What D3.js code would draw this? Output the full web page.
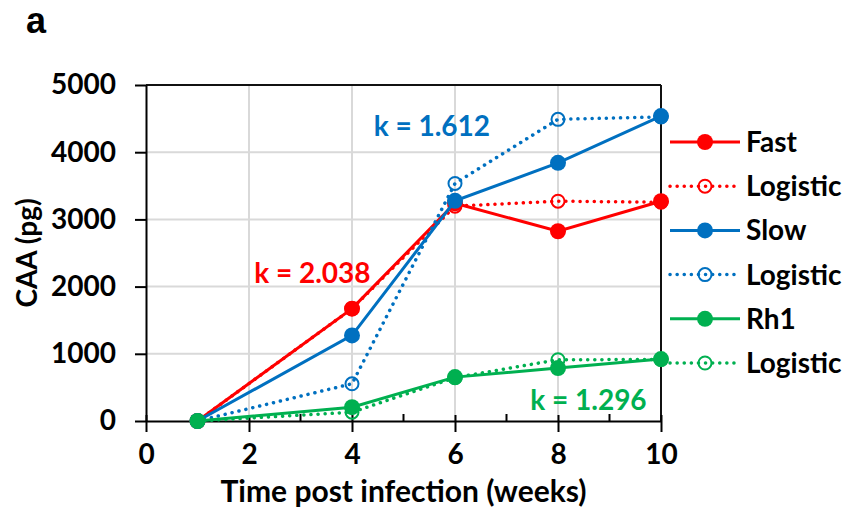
<!DOCTYPE html>
<html>
<head>
<meta charset="utf-8">
<script src="https://cdn.jsdelivr.net/npm/d3@7"></script>
<style>
  body { margin: 0; background: #fff; }
  svg { font-family: Lato, "Open Sans", sans-serif; font-weight: bold; }
</style>
</head>
<body>
<script>
// values
const weeks = [1, 4, 6, 8, 10];
const fast = [0, 1672, 3240, 2824, 3271];
const fastLogistic = [0, 1672, 3197, 3271, 3255];
const slow = [0, 1274, 3276, 3842, 4538];
const slowLogistic = [0, 554, 3535, 4489, 4525];
const rh1 = [0, 206, 653, 788, 921];
const rh1Logistic = [0, 131, 645, 912, 915];

const legendNames = ["Fast", "Logistic", "Slow", "Logistic", "Rh1", "Logistic"];
const kLabels = ["k = 2.038", "k = 1.612", "k = 1.296"];
const xTicks = [0, 2, 4, 6, 8, 10];
const xMinor = [1, 3, 5, 7, 9];
const yTicks = [0, 1000, 2000, 3000, 4000, 5000];

const red = "#ff0000", blue = "#0070c0", green = "#00b050";

const series = [
  { values: fast, color: red, dotted: false },
  { values: fastLogistic, color: red, dotted: true },
  { values: slow, color: blue, dotted: false },
  { values: slowLogistic, color: blue, dotted: true },
  { values: rh1, color: green, dotted: false },
  { values: rh1Logistic, color: green, dotted: true }
];

const width = 847;
const height = 510;
const plotLeft = 146, plotRight = 661, plotTop = 85, plotBottom = 421;
const fs = 28;

const svg = d3.select("body").append("svg").attr("width", width).attr("height", height);

const xScale = d3.scaleLinear().domain([0, 10]).range([plotLeft, plotRight]);
const yScale = d3.scaleLinear().domain([0, 5000]).range([plotBottom, plotTop]);

// grid
svg.selectAll("line.hgrid")
  .data(yTicks.slice(1, -1))
  .enter().append("line")
  .attr("x1", plotLeft).attr("x2", plotRight)
  .attr("y1", (d) => yScale(d)).attr("y2", (d) => yScale(d))
  .attr("stroke", "#d9d9d9").attr("stroke-width", 2);

svg.selectAll("line.vgrid")
  .data(xTicks.slice(1, -1))
  .enter().append("line")
  .attr("x1", (d) => xScale(d)).attr("x2", (d) => xScale(d))
  .attr("y1", plotTop).attr("y2", plotBottom)
  .attr("stroke", "#d9d9d9").attr("stroke-width", 2);

// box top / right
svg.append("line").attr("x1", plotLeft).attr("x2", plotRight).attr("y1", plotTop).attr("y2", plotTop)
  .attr("stroke", "#111").attr("stroke-width", 2);
svg.append("line").attr("x1", plotRight).attr("x2", plotRight).attr("y1", plotTop).attr("y2", plotBottom)
  .attr("stroke", "#111").attr("stroke-width", 2);

// x axis
const xAxis = svg.append("g")
  .attr("transform", "translate(0," + plotBottom + ")")
  .call(d3.axisBottom(xScale).tickValues(xTicks).tickFormat(d3.format("d"))
    .tickSize(11).tickSizeOuter(0).tickPadding(12));
xAxis.select(".domain").attr("stroke", "#000").attr("stroke-width", 2);
xAxis.selectAll(".tick line").attr("y1", -6).attr("stroke", "#000").attr("stroke-width", 2);
xAxis.selectAll(".tick text").attr("font-size", fs).attr("fill", "#000")
  .attr("font-family", "Lato").attr("font-weight", "bold");

svg.selectAll("line.minor")
  .data(xMinor)
  .enter().append("line")
  .attr("x1", (d) => xScale(d)).attr("x2", (d) => xScale(d))
  .attr("y1", plotBottom - 7).attr("y2", plotBottom)
  .attr("stroke", "#000").attr("stroke-width", 2);

// y axis
const yAxis = svg.append("g")
  .attr("transform", "translate(" + plotLeft + ",0)")
  .call(d3.axisLeft(yScale).tickValues(yTicks).tickFormat(d3.format("d"))
    .tickSize(11).tickSizeOuter(0).tickPadding(19));
yAxis.select(".domain").attr("stroke", "#000").attr("stroke-width", 2);
yAxis.selectAll(".tick line").attr("stroke", "#000").attr("stroke-width", 2);
yAxis.selectAll(".tick text").attr("font-size", fs).attr("fill", "#000")
  .attr("font-family", "Lato").attr("font-weight", "bold");

// lines
const line = d3.line().x((d, i) => xScale(weeks[i])).y((d) => yScale(d));

series.forEach(function(s) {
  svg.append("path")
    .attr("d", line(s.values))
    .attr("fill", "none")
    .attr("stroke", s.color)
    .attr("stroke-width", s.dotted ? 3.5 : 3)
    .attr("stroke-linecap", s.dotted ? "round" : "butt")
    .attr("stroke-dasharray", s.dotted ? "0.1 7" : null);

  const g = svg.append("g");
  if (s.dotted) {
    g.selectAll("circle")
      .data(s.values)
      .enter().append("circle")
      .attr("cx", (d, i) => xScale(weeks[i]))
      .attr("cy", (d) => yScale(d))
      .attr("r", 6.5)
      .attr("fill", "none")
      .attr("stroke", s.color)
      .attr("stroke-width", 2);
  } else {
    g.selectAll("circle")
      .data(s.values)
      .enter().append("circle")
      .attr("cx", (d, i) => xScale(weeks[i]))
      .attr("cy", (d) => yScale(d))
      .attr("r", 8)
      .attr("fill", s.color);
  }
});

// k annotations
const kPos = [[2.1, 2050, red], [4.42, 4240, blue], [7.46, 160, green]];
svg.selectAll("text.k")
  .data(kLabels)
  .enter().append("text")
  .attr("x", (d, i) => xScale(kPos[i][0]))
  .attr("y", (d, i) => yScale(kPos[i][1]))
  .attr("fill", (d, i) => kPos[i][2])
  .attr("font-size", fs)
  .text((d) => d);

// legend
const legend = svg.selectAll("g.legend")
  .data(legendNames)
  .enter().append("g")
  .attr("transform", (d, i) => "translate(0," + (142 + i * 44.2) + ")");

legend.append("line")
  .attr("x1", 670).attr("x2", 740)
  .attr("stroke", (d, i) => series[i].color)
  .attr("stroke-width", (d, i) => series[i].dotted ? 3.5 : 3)
  .attr("stroke-linecap", (d, i) => series[i].dotted ? "round" : "butt")
  .attr("stroke-dasharray", (d, i) => series[i].dotted ? "0.1 7" : null);

legend.append("circle")
  .attr("cx", 705)
  .attr("r", (d, i) => series[i].dotted ? 6.5 : 8)
  .attr("fill", (d, i) => series[i].dotted ? "none" : series[i].color)
  .attr("stroke", (d, i) => series[i].dotted ? series[i].color : "none")
  .attr("stroke-width", 2);

legend.append("text")
  .attr("x", 746)
  .attr("y", 10)
  .attr("font-size", fs)
  .text((d) => d);

// axis titles
svg.append("text")
  .attr("x", (plotLeft + plotRight) / 2)
  .attr("y", 502)
  .attr("text-anchor", "middle")
  .attr("font-size", 30)
  .text("Time post infection (weeks)");

svg.append("text")
  .attr("transform", "translate(37,253) rotate(-90)")
  .attr("text-anchor", "middle")
  .attr("font-size", fs)
  .text("CAA (pg)");

svg.append("text")
  .attr("x", 26)
  .attr("y", 33)
  .attr("font-family", "'Liberation Sans', Arial, sans-serif")
  .attr("font-size", 36)
  .text("a");
</script>
</body>
</html>
